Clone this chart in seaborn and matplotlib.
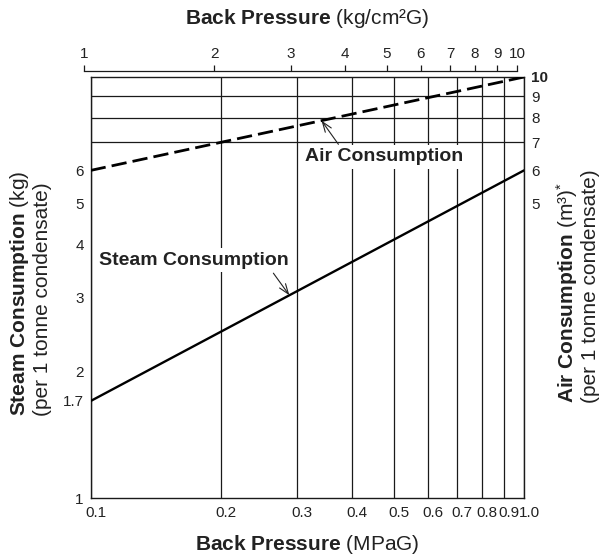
import numpy as np
import pandas as pd
import matplotlib
matplotlib.use("Agg")
import matplotlib.pyplot as plt
import seaborn as sns
from matplotlib import ticker, transforms

# ---- data ----
pressure_mpa = [0.1, 1.0]
steam_kg = [1.7, 6.0]
air_m3 = [6.0, 10.0]

x_ticks = [0.1, 0.2, 0.3, 0.4, 0.5, 0.6, 0.7, 0.8, 0.9, 1.0]
x_tick_labels = ["0.1", "0.2", "0.3", "0.4", "0.5", "0.6", "0.7", "0.8", "0.9", "1.0"]
top_ticks = [1, 2, 3, 4, 5, 6, 7, 8, 9, 10]
top_tick_labels = ["1", "2", "3", "4", "5", "6", "7", "8", "9", "10"]
left_ticks = [1, 1.7, 2, 3, 4, 5, 6]
left_tick_labels = ["1", "1.7", "2", "3", "4", "5", "6"]
right_ticks = [5, 6, 7, 8, 9, 10]
right_tick_labels = ["5", "6", "7", "8", "9", "10"]
grid_y = [2, 3, 4, 5, 6, 7, 8, 9]
KGCM2_TO_MPA = 0.0964

steam_text_pos = (0.173, 3.67)
steam_arrow_from_x = (0.264, 3.42)
steam_arrow_tip_x = 0.2874
air_text_pos = (0.476, 6.47)
air_arrow_from = (0.373, 6.92)
air_arrow_tip_x = 0.341

INK = "#222222"

sns.set_theme(style="white")
plt.rcParams["font.family"] = ["Liberation Sans", "DejaVu Sans"]
plt.rcParams["mathtext.fontset"] = "custom"
plt.rcParams["mathtext.rm"] = "Liberation Sans"
plt.rcParams["mathtext.bf"] = "Liberation Sans:bold"
plt.rcParams["mathtext.it"] = "Liberation Sans:italic"
plt.rcParams["text.color"] = INK

fig = plt.figure(figsize=(6, 5.57), dpi=100)
L, R, T, B = 90.7, 524.0, 77.0, 498.0
W, H = 600.0, 557.0
ax = fig.add_axes([L / W, 1 - B / H, (R - L) / W, (B - T) / H])

df = pd.DataFrame({"p": pressure_mpa, "steam": steam_kg, "air": air_m3})
sns.lineplot(data=df, x="p", y="steam", ax=ax, color="black", linewidth=1.7, zorder=4)
sns.lineplot(data=df, x="p", y="air", ax=ax, color="black", linewidth=2.0, zorder=4)
ax.lines[-1].set_linestyle((0, (5.5, 2.2)))

ax.set_xscale("log")
ax.set_yscale("log")
ax.set_xlim(0.1, 1.0)
ax.set_ylim(1, 10)
ax.set_xlabel("")
ax.set_ylabel("")

ax.xaxis.set_major_locator(ticker.FixedLocator(x_ticks))
ax.xaxis.set_major_formatter(ticker.FixedFormatter(x_tick_labels))
ax.xaxis.set_minor_locator(ticker.NullLocator())
ax.yaxis.set_major_locator(ticker.FixedLocator(left_ticks))
ax.yaxis.set_major_formatter(ticker.FixedFormatter(left_tick_labels))
ax.yaxis.set_minor_locator(ticker.FixedLocator(grid_y))
ax.yaxis.set_minor_formatter(ticker.NullFormatter())
ax.tick_params(axis="both", which="both", length=0, colors=INK)
ax.tick_params(axis="y", labelsize=11, pad=5)
ax.tick_params(axis="x", labelsize=11, pad=6)

ax.grid(False)
ax.grid(True, which="major", axis="x", color="#1a1a1a", linewidth=0.9)
ax.grid(True, which="minor", axis="y", color="#1a1a1a", linewidth=0.9)
for s in ax.spines.values():
    s.set_color("#1a1a1a")
    s.set_linewidth(1.0)

off = transforms.ScaledTranslation(5 / 100, 0, fig.dpi_scale_trans)
for lab in ax.get_xticklabels():
    lab.set_family(["Liberation Sans Narrow", "Liberation Sans"])
    lab.set_transform(lab.get_transform() + off)

# right axis
ax2 = ax.twinx()
ax2.set_yscale("log")
ax2.set_ylim(1, 10)
ax2.yaxis.set_major_locator(ticker.FixedLocator(right_ticks))
ax2.yaxis.set_major_formatter(ticker.FixedFormatter(right_tick_labels))
ax2.yaxis.set_minor_locator(ticker.NullLocator())
ax2.tick_params(axis="y", which="both", length=0, labelsize=11, pad=5, colors=INK)
ax2.grid(False)
for s in ax2.spines.values():
    s.set_visible(False)
ax2.get_yticklabels()[-1].set_fontweight("bold")

# top axis (kg/cm2G), drawn as its own thin axes so the "1" tick fits
EXT = 12.0  # px of extra room on the left
top_y = 71.0
axt = fig.add_axes([(L - EXT) / W, 1 - (top_y + 1) / H, (R - L + EXT) / W, 1 / H])
axt.set_xscale("log")
axt.set_xlim(0.1 / KGCM2_TO_MPA * 10 ** (-EXT / (R - L)), 1.0 / KGCM2_TO_MPA)
axt.set_ylim(0, 1)
axt.patch.set_visible(False)
axt.grid(False)
for k in ("left", "right", "bottom"):
    axt.spines[k].set_visible(False)
axt.spines["top"].set_bounds(1, 10)
axt.spines["top"].set_linewidth(0.9)
axt.spines["top"].set_color("#1a1a1a")
axt.yaxis.set_visible(False)
axt.xaxis.tick_top()
axt.xaxis.set_major_locator(ticker.FixedLocator(top_ticks))
axt.xaxis.set_major_formatter(ticker.FixedFormatter(top_tick_labels))
axt.xaxis.set_minor_locator(ticker.NullLocator())
axt.tick_params(axis="x", which="major", top=True, bottom=False, labeltop=True, labelbottom=False,
                direction="out", length=4.5, width=0.9, color="#1a1a1a",
                labelsize=11, pad=3, labelcolor=INK)

# annotations
lx = np.log10(pressure_mpa)
steam_tip = (steam_arrow_tip_x, 10 ** np.interp(np.log10(steam_arrow_tip_x), lx, np.log10(steam_kg)))
air_tip = (air_arrow_tip_x, 10 ** np.interp(np.log10(air_arrow_tip_x), lx, np.log10(air_m3)))
box = dict(facecolor="white", edgecolor="none", pad=2.5)
ax.text(*steam_text_pos, "Steam Consumption", fontsize=14, fontweight="bold",
        ha="center", va="center", bbox=box, zorder=5)
ax.text(*air_text_pos, "Air Consumption", fontsize=14, fontweight="bold",
        ha="center", va="center", bbox=box, zorder=5)
arrow = dict(arrowstyle="->,head_length=0.6,head_width=0.22", lw=0.8, color=INK,
             shrinkA=0, shrinkB=0)
ax.annotate("", xy=steam_tip, xytext=steam_arrow_from_x, arrowprops=arrow, zorder=6)
ax.annotate("", xy=air_tip, xytext=air_arrow_from, arrowprops=arrow, zorder=6)

# titles and axis labels
cx = (L + R) / 2 / W
fig.text(cx, 1 - 18 / H, r"$\mathbf{Back\ Pressure}$ (kg/cm²G)", ha="center", va="center", fontsize=15)
fig.text(cx, 1 - 545 / H, r"$\mathbf{Back\ Pressure}$ (MPaG)", ha="center", va="center", fontsize=15)
yb_left = 1 - 416 / H
yb_right = 1 - 403 / H
fig.text(20 / W, yb_left, r"$\mathbf{Steam\ Consumption}$ (kg)", rotation=90, ha="center", va="bottom", fontsize=15)
fig.text(42 / W, yb_left, "(per 1 tonne condensate)", rotation=90, ha="center", va="bottom", fontsize=15)
fig.text(567 / W, yb_right, r"$\mathbf{Air\ Consumption}$ (m³)$^{*}$", rotation=90, ha="center", va="bottom", fontsize=15)
fig.text(590 / W, yb_right, "(per 1 tonne condensate)", rotation=90, ha="center", va="bottom", fontsize=15)

fig.savefig("out.png", dpi=100)
